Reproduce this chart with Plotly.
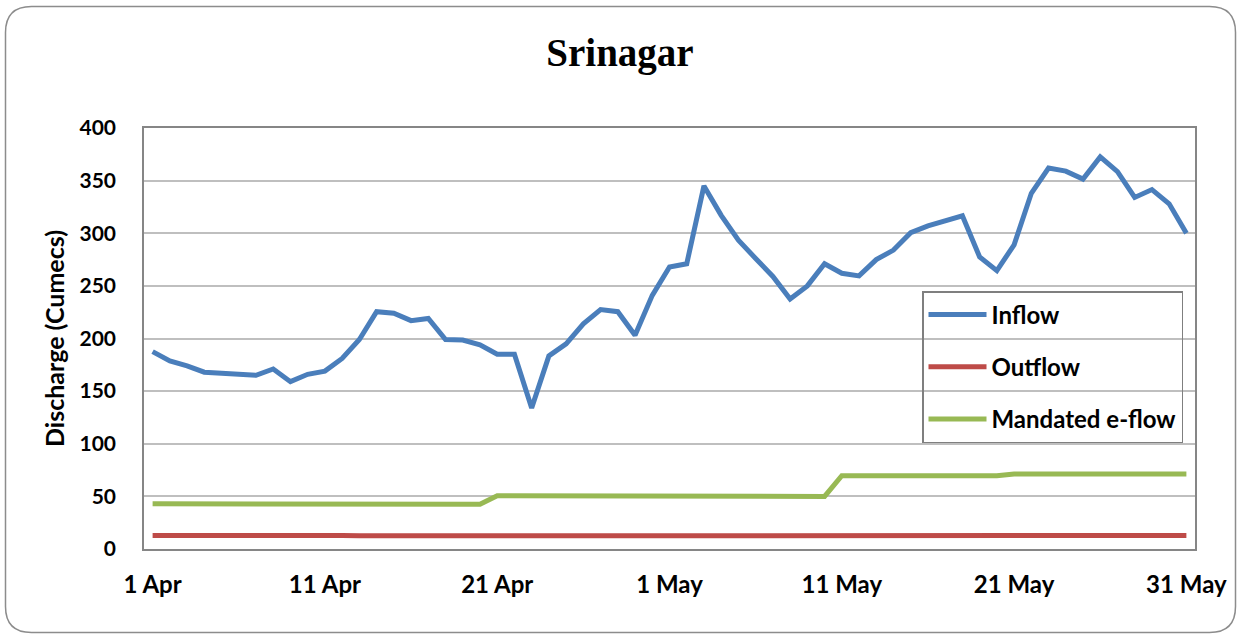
import plotly.graph_objects as go

# ---- data ----
dates = [f"{d} Apr" for d in range(1, 31)] + [f"{d} May" for d in range(1, 32)]
tick_labels = ["1 Apr", "11 Apr", "21 Apr", "1 May", "11 May", "21 May", "31 May"]

inflow = [187.5, 178.6, 174, 168, 167, 166, 165, 171, 159, 166,
          169, 181, 199, 225.5, 224, 217, 219, 199, 198.5, 194,
          185, 185, 134, 183.5, 195, 214, 227.5, 225.5, 203, 241,
          268, 271, 345, 317, 293.5, 276, 259, 237.5, 250, 271,
          262, 259.5, 275, 284, 300.5, 307, 312, 316.5, 277.5, 264.5,
          289, 338, 362, 359, 351.5, 372.5, 358.5, 334, 341.5, 328,
          300]

outflow = [12.8, 12.9, 12.7, 12.6, 12.6, 12.6, 12.7, 12.8, 12.6, 12.6,
           12.7, 12.8, 12.6, 12.6, 12.6, 12.6, 12.7, 12.8, 12.6, 12.6,
           12.6, 12.6, 12.8, 12.6, 12.6, 12.7, 12.8, 12.6, 12.6, 12.6,
           12.7, 12.8, 12.7, 12.6, 12.6, 12.7, 12.8, 12.6, 12.6, 12.6,
           12.6, 12.6, 12.7, 12.7, 12.6, 12.6, 12.6, 12.6, 12.6, 12.6,
           12.6, 12.7, 12.8, 12.7, 12.8, 12.7, 12.7, 12.7, 12.6, 12.7,
           12.8]

eflow = [43, 43, 43, 43, 43, 43, 43, 43, 43, 43,
         42.5, 42.5, 42.5, 42.5, 42.5, 42.5, 42.5, 42.5, 42.5, 42.5,
         50.5, 50.5, 50.5, 50.5, 50.5, 50.5, 50.5, 50.5, 50.5, 50.5,
         50, 50, 50, 50, 50, 50, 50, 50, 50, 50,
         69.6, 69.6, 69.6, 69.6, 69.6, 69.6, 69.6, 69.6, 69.6, 69.6,
         71.2, 71.2, 71.2, 71.2, 71.2, 71.2, 71.2, 71.2, 71.2, 71.2,
         71.2]

# ---- figure geometry (pixels) ----
W, H = 1239, 637
L, R, T, B = 144, 44, 128, 88
PW, PH = W - L - R, H - T - B

def px(x):
    return (x - L) / PW

def py(y):
    return (H - B - y) / PH

FONT = "Lato, 'Open Sans', sans-serif"

fig = go.Figure()
series = [("Inflow", inflow, "#4A7EBB", 5),
          ("Outflow", outflow, "#BE4B48", 5),
          ("Mandated e-flow", eflow, "#98B954", 5)]
for name, vals, col, w in series:
    fig.add_trace(go.Scatter(
        x=dates, y=vals, name=name, mode="lines",
        line=dict(color=col, width=w),
        legendgroup=name,
    ))

# rounded outer border
x0, x1, y0, y1, r = 5.5, 1235.5, 6.5, 632.5, 26
path = (f"M {px(x0+r)},{py(y0)} L {px(x1-r)},{py(y0)} "
        f"Q {px(x1)},{py(y0)} {px(x1)},{py(y0+r)} "
        f"L {px(x1)},{py(y1-r)} Q {px(x1)},{py(y1)} {px(x1-r)},{py(y1)} "
        f"L {px(x0+r)},{py(y1)} Q {px(x0)},{py(y1)} {px(x0)},{py(y1-r)} "
        f"L {px(x0)},{py(y0+r)} Q {px(x0)},{py(y0)} {px(x0+r)},{py(y0)} Z")
fig.add_shape(type="path", path=path, xref="paper", yref="paper",
              line=dict(color="#8C8C8C", width=1.5), layer="below")

fig.update_layout(
    width=W, height=H,
    margin=dict(l=L, r=R, t=T, b=B, autoexpand=False),
    paper_bgcolor="white", plot_bgcolor="white",
    title=dict(text="<b>Srinagar</b>", x=(620) / W, xanchor="center",
               y=1 - 52 / H, yanchor="middle",
               font=dict(family="'Liberation Serif', serif", size=39, color="black")),
    font=dict(family=FONT, color="black", size=20, weight="bold"),
    showlegend=True,
    legend=dict(x=px(922), y=py(291), xanchor="left", yanchor="top",
                bgcolor="rgba(0,0,0,0)", bordercolor="#7F7F7F", borderwidth=1.5,
                traceorder="grouped", tracegroupgap=18, itemwidth=58,
                font=dict(family=FONT, size=24, color="black", weight="bold")),
    xaxis=dict(type="category", categoryorder="array", categoryarray=dates,
               tickmode="array", tickvals=tick_labels, ticktext=tick_labels,
               range=[-0.5, 60.5], showgrid=False, ticks="",
               showline=True, linecolor="#868686", linewidth=1.5, mirror=True,
               ticklabelstandoff=13,
               tickfont=dict(family=FONT, size=24, color="black", weight="bold")),
    yaxis=dict(range=[0, 400], tickvals=[0, 50, 100, 150, 200, 250, 300, 350, 400],
               showgrid=True, gridcolor="#BFBFBF", gridwidth=1.5,
               showline=True, linecolor="#868686", linewidth=1.5, mirror=True,
               ticks="", ticklabelstandoff=22, zeroline=False,
               tickfont=dict(family=FONT, size=21, color="black", weight="bold")),
)
fig.update_yaxes(title=dict(text="Discharge (Cumecs)", standoff=8,
                            font=dict(family=FONT, size=25, color="black", weight="bold")))

fig.write_html("out.html", config={"displayModeBar": False},
               post_script="document.body.style.margin='0';document.body.style.padding='0';")
